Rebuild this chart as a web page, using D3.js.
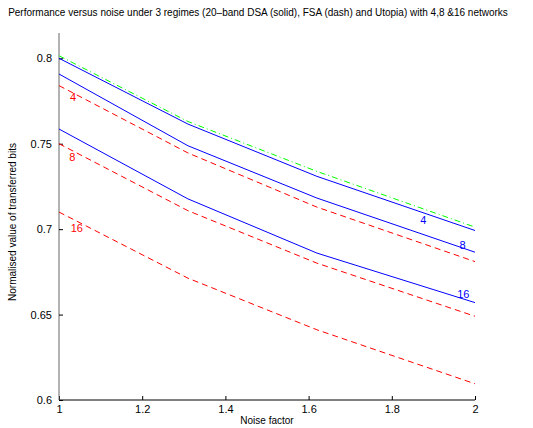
<!DOCTYPE html>
<html>
<head>
<meta charset="utf-8">
<script src="https://cdn.jsdelivr.net/npm/d3@7"></script>
<style>
  body { margin: 0; background: #fff; }
  text { font-family: "Liberation Sans", Arial, sans-serif; }
</style>
</head>
<body>
<script>
const noise = [1, 1.31, 1.62, 2];

const utopia = [0.8015, 0.7630, 0.7338, 0.7012];
const dsa4 = [0.8000, 0.7615, 0.7309, 0.6992];
const dsa8 = [0.7908, 0.7488, 0.7182, 0.6865];
const dsa16 = [0.7586, 0.7177, 0.6860, 0.6570];
const fsa4 = [0.7840, 0.7446, 0.7129, 0.6810];
const fsa8 = [0.7500, 0.7108, 0.6801, 0.6490];
const fsa16 = [0.7100, 0.6713, 0.6411, 0.6095];

const xTicks = [1, 1.2, 1.4, 1.6, 1.8, 2];
const yTicks = [0.6, 0.65, 0.7, 0.75, 0.8];

// labels next to the curves: [x, y, text]
const fsaLabels = [[1.034, 0.7775, "4"], [1.032, 0.7424, "8"], [1.043, 0.7008, "16"]];
const dsaLabels = [[1.876, 0.7056, "4"], [1.970, 0.6909, "8"], [1.972, 0.6623, "16"]];

const width = 533, height = 428;
const margin = {top: 33, right: 58, bottom: 28, left: 59};

const svg = d3.select("body")
  .append("svg")
  .attr("width", width)
  .attr("height", height);

const x = d3.scaleLinear()
  .domain([1, 2])
  .range([margin.left, width - margin.right]);

const y = d3.scaleLinear()
  .domain([0.6, 0.8148])
  .range([height - margin.bottom, margin.top]);

// Title
svg.append("text")
  .attr("x", 258)
  .attr("y", 16)
  .attr("text-anchor", "middle")
  .attr("font-size", 10)
  .text("Performance versus noise under 3 regimes (20\u2013band DSA (solid), FSA (dash) and Utopia) with 4,8 &16 networks");

// Axes with inward ticks
const xAxis = svg.append("g")
  .attr("transform", `translate(0,${height - margin.bottom})`)
  .call(d3.axisBottom(x).tickValues(xTicks).tickSize(-4).tickPadding(5).tickFormat(d3.format("")));
const yAxis = svg.append("g")
  .attr("transform", `translate(${margin.left},0)`)
  .call(d3.axisLeft(y).tickValues(yTicks).tickSize(-4).tickPadding(7).tickFormat(d3.format("")));

[xAxis, yAxis].forEach(g => {
  g.selectAll("text").attr("font-size", 11).attr("fill", "#000");
  g.selectAll("line").attr("stroke", "#000");
});
xAxis.select(".domain").attr("stroke", "#000").attr("d", `M${x(1)},0H${x(2)}`);
yAxis.select(".domain").attr("stroke", "#666").attr("d", `M0,${y(0.6)}V${margin.top}`);

// Axis labels
svg.append("text")
  .attr("x", (x(1) + x(2)) / 2)
  .attr("y", 424)
  .attr("text-anchor", "middle")
  .attr("font-size", 10)
  .text("Noise factor");

svg.append("text")
  .attr("transform", `translate(16,222) rotate(-90)`)
  .attr("text-anchor", "middle")
  .attr("font-size", 10)
  .text("Normalised value of transferred bits");

const line = d3.line()
  .x((d, i) => x(noise[i]))
  .y(d => y(d));

const series = [
  {values: fsa4, color: "#ff0000", dash: "6,4"},
  {values: fsa8, color: "#ff0000", dash: "6,4"},
  {values: fsa16, color: "#ff0000", dash: "6,4"},
  {values: utopia, color: "#00ff00", dash: "6,3,1,3"},
  {values: dsa4, color: "#0000ff", dash: null},
  {values: dsa8, color: "#0000ff", dash: null},
  {values: dsa16, color: "#0000ff", dash: null}
];

svg.selectAll("path.series")
  .data(series)
  .join("path")
  .attr("class", "series")
  .attr("fill", "none")
  .attr("stroke", d => d.color)
  .attr("stroke-width", 1)
  .attr("stroke-dasharray", d => d.dash)
  .attr("d", d => line(d.values));

svg.selectAll("text.fsa")
  .data(fsaLabels)
  .join("text")
  .attr("class", "fsa")
  .attr("x", d => x(d[0]))
  .attr("y", d => y(d[1]) + 4)
  .attr("text-anchor", "middle")
  .attr("font-size", 11)
  .attr("fill", "#ff0000")
  .text(d => d[2]);

svg.selectAll("text.dsa")
  .data(dsaLabels)
  .join("text")
  .attr("class", "dsa")
  .attr("x", d => x(d[0]))
  .attr("y", d => y(d[1]) + 4)
  .attr("text-anchor", "middle")
  .attr("font-size", 11)
  .attr("fill", "#0000ff")
  .text(d => d[2]);
</script>
</body>
</html>
